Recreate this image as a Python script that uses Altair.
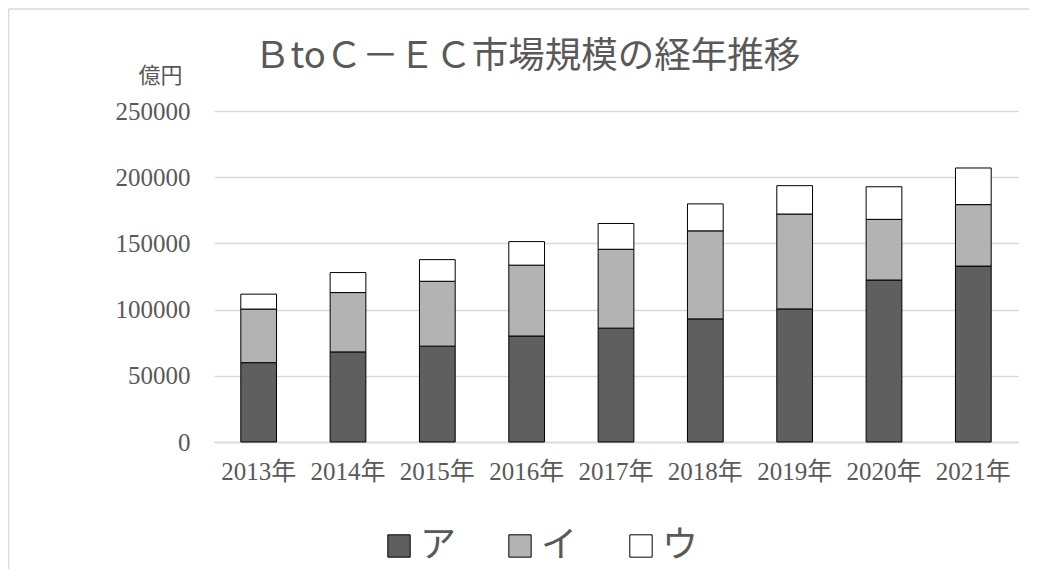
import altair as alt
import pandas as pd

years = ["2013年", "2014年", "2015年", "2016年", "2017年", "2018年", "2019年", "2020年", "2021年"]
series_names = ["ア", "イ", "ウ"]
series_a = [59931, 68043, 72398, 80043, 86008, 92992, 100515, 122333, 132865]
series_i = [40486, 44816, 49014, 53532, 59568, 66471, 71672, 45832, 46424]
series_u = [11243, 15111, 16334, 17782, 19478, 20382, 21422, 24614, 27661]
colors = ["#5f5f5f", "#b3b3b3", "#ffffff"]
title_text = "ＢtoＣ－ＥＣ市場規模の経年推移"
unit_text = "億円"
y_ticks = [0, 50000, 100000, 150000, 200000, 250000]

rows = []
for k, name in enumerate(series_names):
    vals = [series_a, series_i, series_u][k]
    for y, v in zip(years, vals):
        rows.append({"year": y, "series": name, "value": v, "ord": k})
df = pd.DataFrame(rows)

W, H = 804, 331
SERIF = "Liberation Serif, DejaVu Serif, Noto Sans CJK JP"
SANS = "Noto Sans CJK JP"
TXT = "#595959"

bars = alt.Chart(df).mark_bar(stroke="black", strokeWidth=1).encode(
    x=alt.X("year:N", sort=years,
            scale=alt.Scale(paddingInner=0.6, paddingOuter=0.3),
            axis=alt.Axis(title=None, labelAngle=0, ticks=False,
                          domainColor="#d9d9d9", domainWidth=1.5,
                          labelFont=SERIF, labelFontSize=25, labelColor=TXT,
                          labelPadding=17)),
    y=alt.Y("value:Q", stack="zero",
            scale=alt.Scale(domain=[0, 250000], nice=False),
            axis=alt.Axis(title=unit_text, titleAngle=0, titleX=-54, titleY=-36,
                          titleAlign="center", titleBaseline="middle",
                          titleFont=SERIF, titleFontSize=22, titleFontWeight="normal",
                          titleColor=TXT,
                          values=y_ticks, format="d", ticks=False, domain=False,
                          gridColor="#d9d9d9", gridWidth=1.5,
                          labelFont=SERIF, labelFontSize=25, labelColor=TXT,
                          labelPadding=24)),
    color=alt.Color("series:N", sort=series_names,
                    scale=alt.Scale(domain=series_names, range=colors),
                    legend=alt.Legend(title=None, orient="none", direction="horizontal",
                                      legendX=167, legendY=417, padding=0,
                                      symbolType="square", symbolSize=500,
                                      symbolStrokeColor="black", symbolStrokeWidth=1,
                                      symbolOpacity=1,
                                      labelFont=SANS, labelFontSize=36, labelColor=TXT,
                                      labelOffset=3, columnPadding=45)),
    order=alt.Order("ord:Q"),
)

title_df = pd.DataFrame({"t": [title_text]})
title = alt.Chart(title_df).mark_text(
    align="left", baseline="middle", font=SANS, fontSize=36.5, color=TXT
).encode(text="t:N", x=alt.value(40), y=alt.value(-54))

frame_df = pd.DataFrame({"a": [0]})
frame_top = alt.Chart(frame_df).mark_rule(stroke="#d9d9d9", strokeWidth=1.5).encode(
    x=alt.value(-205.5), x2=alt.value(830), y=alt.value(-102))
frame_left = alt.Chart(frame_df).mark_rule(stroke="#d9d9d9", strokeWidth=1.5).encode(
    x=alt.value(-205.5), y=alt.value(-102), y2=alt.value(470))

chart = alt.layer(frame_top, frame_left, bars, title).properties(
    width=W, height=H,
    autosize=alt.AutoSizeParams(type="none"),
    padding={"left": 206, "top": 103, "right": 11, "bottom": 127},
).configure_view(stroke=None)

chart.save("out.html", embed_options={"renderer": "svg", "actions": False})
